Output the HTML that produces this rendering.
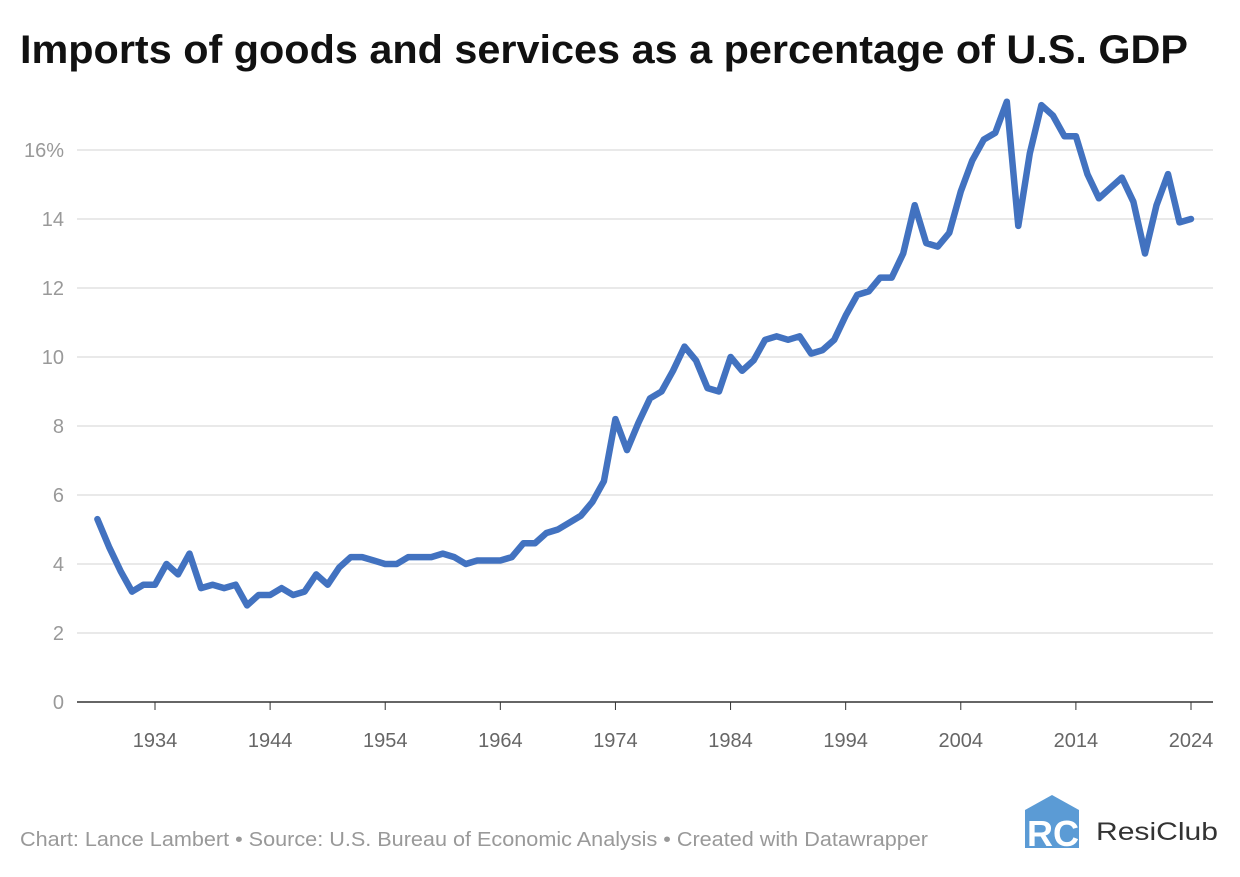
<!DOCTYPE html>
<html><head><meta charset="utf-8"><style>
body{margin:0;background:#fff;font-family:"Liberation Sans",sans-serif;}
</style></head><body>
<svg width="1240" height="872" xmlns="http://www.w3.org/2000/svg">
<text x="20" y="63" font-size="40" font-weight="bold" fill="#111" textLength="1168" lengthAdjust="spacingAndGlyphs">Imports of goods and services as a percentage of U.S. GDP</text>
<g id="grid"></g>
<g id="yt"></g>
<g id="xt"></g>
<path id="line" fill="none" stroke="#4272c0" stroke-width="6.5" stroke-linejoin="round" stroke-linecap="round"/>
<text x="20" y="846" font-size="20" fill="#999" textLength="908" lengthAdjust="spacingAndGlyphs">Chart: Lance Lambert • Source: U.S. Bureau of Economic Analysis • Created with Datawrapper</text>
<g>
<path d="M1025 810 L1052 795 L1079 810 L1079 848 L1025 848 Z" fill="#5b9bd5"/>
<text x="1027" y="846" font-size="36" font-weight="bold" fill="#fff">RC</text>
<text x="1096" y="840" font-size="25" fill="#333" textLength="122" lengthAdjust="spacingAndGlyphs">ResiClub</text>
</g>
</svg>
<script>
const startYear = 1929;
const values = [5.3,4.5,3.8,3.2,3.4,3.4,4.0,3.7,4.3,3.3,3.4,3.3,3.4,2.8,3.1,3.1,3.3,3.1,3.2,3.7,3.4,3.9,4.2,4.2,4.1,4.0,4.0,4.2,4.2,4.2,4.3,4.2,4.0,4.1,4.1,4.1,4.2,4.6,4.6,4.9,5.0,5.2,5.4,5.8,6.4,8.2,7.3,8.1,8.8,9.0,9.6,10.3,9.9,9.1,9.0,10.0,9.6,9.9,10.5,10.6,10.5,10.6,10.1,10.2,10.5,11.2,11.8,11.9,12.3,12.3,13.0,14.4,13.3,13.2,13.6,14.8,15.7,16.3,16.5,17.4,13.8,15.9,17.3,17.0,16.4,16.4,15.3,14.6,14.9,15.2,14.5,13.0,14.4,15.3,13.9,14.0];
const yTicks = [0,2,4,6,8,10,12,14,16];
const yLabels = ["0","2","4","6","8","10","12","14","16%"];
const xTicks = [1934,1944,1954,1964,1974,1984,1994,2004,2014,2024];
const NS="http://www.w3.org/2000/svg";
const y = v => 702 - v*34.5;
const x = yr => 155 + (yr-1934)*(1036/90);
const grid=document.getElementById('grid'), yt=document.getElementById('yt'), xt=document.getElementById('xt');
yTicks.forEach((t,i)=>{
  const l=document.createElementNS(NS,'line');
  
  
  l.setAttribute('x1',77);l.setAttribute('x2',1213);l.setAttribute('y1',y(t));l.setAttribute('y2',y(t));
  l.setAttribute('stroke',t===0?'#333':'#e2e2e2');l.setAttribute('stroke-width',1.5);
  grid.appendChild(l);
  const tx=document.createElementNS(NS,'text');
  
  
  tx.setAttribute('x',64);tx.setAttribute('y',y(t)+7);tx.setAttribute('text-anchor','end');
  tx.setAttribute('font-size','20');tx.setAttribute('fill','#999');tx.textContent=yLabels[i];
  yt.appendChild(tx);
});
xTicks.forEach(t=>{
  const l=document.createElementNS(NS,'line');
  
  
  l.setAttribute('x1',x(t));l.setAttribute('x2',x(t));l.setAttribute('y1',702);l.setAttribute('y2',710);
  l.setAttribute('stroke','#333');xt.appendChild(l);
  const tx=document.createElementNS(NS,'text');
  
  
  tx.setAttribute('x',x(t));tx.setAttribute('y',747);tx.setAttribute('text-anchor','middle');
  tx.setAttribute('font-size','20');tx.setAttribute('fill','#666');tx.textContent=t;
  xt.appendChild(tx);
});
document.getElementById('line').setAttribute('d', values.map((v,i)=>(i?'L':'M')+x(startYear+i).toFixed(1)+' '+y(v).toFixed(1)).join(' '));
</script>
</body></html>
